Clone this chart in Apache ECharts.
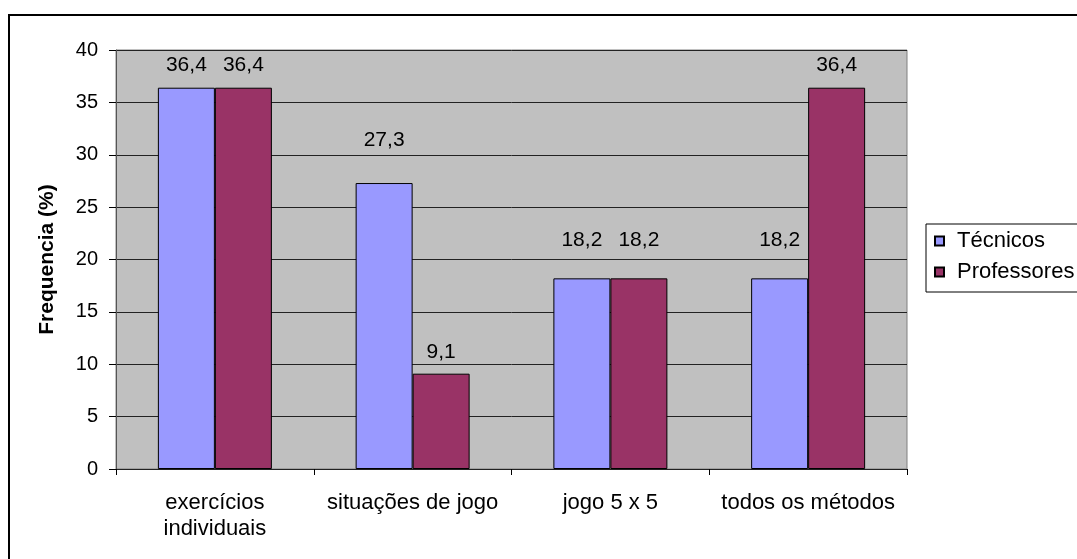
<!DOCTYPE html>
<html>
<head>
<meta charset="utf-8">
<script src="https://cdn.jsdelivr.net/npm/echarts@6/dist/echarts.min.js"></script>
<style>
  html, body { margin: 0; padding: 0; background: #fff; }
  #chart { width: 1077px; height: 559px; }
</style>
</head>
<body>
<div id="chart"></div>
<script>
// Training methods by respondent group (percent)
const categories = ['exercícios\nindividuais', 'situações de jogo', 'jogo 5 x 5', 'todos os métodos'];
const tecnicos = [36.4, 27.3, 18.2, 18.2];
const professores = [36.4, 9.1, 18.2, 36.4];
const seriesNames = ['Técnicos', 'Professores'];
const yTicks = { min: 0, max: 40, step: 5 };

const FONT = '"Liberation Sans", Arial, sans-serif';

// Gap (px) between each bar top and its value label, per category
const labelGap = {
  tecnicos: [12, 32, 28, 28],
  professores: [12, 11, 28, 12]
};

const chart = echarts.init(document.getElementById('chart'), null, { renderer: 'canvas' });

const valueLabel = {
  show: true,
  position: 'top',
  distance: 12,
  color: '#000',
  fontFamily: FONT,
  fontSize: 21,
  formatter: p => p.value.toFixed(1).replace('.', ',')
};

function withLabelGaps(values, gaps) {
  return values.map((v, i) => ({ value: v, label: { distance: gaps[i] } }));
}

chart.setOption({
  animation: false,
  backgroundColor: '#fff',
  textStyle: { fontFamily: FONT },
  grid: {
    left: 116, top: 50, right: 170, bottom: 90,
    show: true,
    backgroundColor: '#C0C0C0',
    borderColor: '#808080',
    borderWidth: 1
  },
  graphic: [{
    type: 'rect',
    shape: { x: 9, y: 15, width: 1200, height: 700 },
    style: { fill: 'none', stroke: '#000', lineWidth: 2 },
    z: 100
  }],
  legend: {
    orient: 'vertical',
    left: 926,
    top: 224,
    padding: [6, 30, 9, 8],
    itemGap: 9,
    itemWidth: 9,
    itemHeight: 9,
    icon: 'rect',
    borderColor: '#000',
    borderWidth: 1,
    backgroundColor: '#fff',
    textStyle: { fontFamily: FONT, fontSize: 22, color: '#000', padding: [0, 0, 0, 8] },
    data: seriesNames
  },
  xAxis: {
    type: 'category',
    data: categories,
    axisLine: { show: true, lineStyle: { color: '#222', width: 1 } },
    axisTick: { show: true, length: 6, lineStyle: { color: '#000' } },
    axisLabel: {
      color: '#000', fontFamily: FONT, fontSize: 22, lineHeight: 26, margin: 21,
      interval: 0
    },
    splitLine: { show: false }
  },
  yAxis: {
    type: 'value',
    min: yTicks.min,
    max: yTicks.max,
    interval: yTicks.step,
    name: 'Frequencia (%)',
    nameLocation: 'middle',
    nameGap: 58,
    nameTextStyle: { color: '#000', fontFamily: FONT, fontSize: 21, fontWeight: 'bold' },
    axisLine: { show: true, lineStyle: { color: '#555', width: 1 } },
    axisTick: { show: true, length: 7, lineStyle: { color: '#000' } },
    axisLabel: { color: '#000', fontFamily: FONT, fontSize: 20, margin: 18 },
    splitLine: { show: true, lineStyle: { color: '#222', width: 1 } }
  },
  series: [
    {
      name: seriesNames[0],
      type: 'bar',
      data: withLabelGaps(tecnicos, labelGap.tecnicos),
      barWidth: 57,
      barGap: '0%',
      itemStyle: { color: '#9999FF', borderColor: '#000', borderWidth: 1 },
      label: valueLabel
    },
    {
      name: seriesNames[1],
      type: 'bar',
      data: withLabelGaps(professores, labelGap.professores),
      barWidth: 57,
      barGap: '0%',
      itemStyle: { color: '#993366', borderColor: '#000', borderWidth: 1 },
      label: valueLabel
    }
  ]
});
</script>
</body>
</html>
